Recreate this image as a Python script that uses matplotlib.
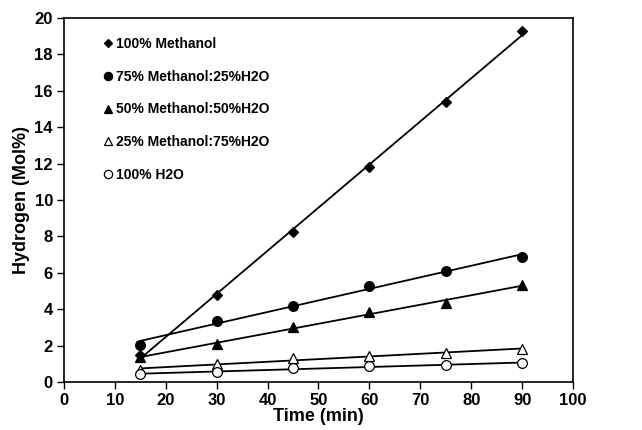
import numpy as np
import matplotlib.pyplot as plt

plt.rcParams['font.family'] = ['Liberation Sans', 'DejaVu Sans']
plt.rcParams['font.weight'] = 'bold'

# data
time_min = [15, 30, 45, 60, 75, 90]
meoh_100 = [1.5, 4.8, 8.25, 11.8, 15.4, 19.3]
meoh_75 = [2.05, 3.35, 4.2, 5.3, 6.1, 6.85]
meoh_50 = [1.35, 2.1, 3.05, 3.82, 4.32, 5.35]
meoh_25 = [0.65, 1.0, 1.3, 1.42, 1.6, 1.8]
h2o_100 = [0.42, 0.57, 0.75, 0.86, 0.95, 1.03]

labels = ["100% Methanol", "75% Methanol:25%H2O", "50% Methanol:50%H2O",
          "25% Methanol:75%H2O", "100% H2O"]

series = [meoh_100, meoh_75, meoh_50, meoh_25, h2o_100]
markers = ['D', 'o', '^', '^', 'o']
sizes = [5, 7, 7, 7, 7]
faces = ['black', 'black', 'black', 'white', 'white']

fig = plt.figure(figsize=(6.42, 4.30), dpi=100)
ax = fig.add_axes([0.0997, 0.1116, 0.7928, 0.8464])

x = np.array(time_min)
for y, m, s, fc, lab in zip(series, markers, sizes, faces, labels):
    # linear trend line
    k, b = np.polyfit(x, y, 1)
    ax.plot(x, k * x + b, color='black', lw=1.3, zorder=2)
    ax.plot(x, y, linestyle='none', marker=m, ms=s, mfc=fc, mec='black',
            mew=0.9, label=lab, zorder=3)

ax.set_xlim(0, 100)
ax.set_ylim(0, 20)
ax.set_xticks(range(0, 101, 10))
ax.set_yticks(range(0, 21, 2))
ax.tick_params(direction='out', length=5, width=1, labelsize=12, pad=3)
for sp in ax.spines.values():
    sp.set_linewidth(1.2)

ax.set_xlabel("Time (min)", fontsize=13, fontweight='bold', labelpad=0)
ax.set_ylabel("Hydrogen (Mol%)", fontsize=13, fontweight='bold', labelpad=3)

leg = ax.legend(loc='upper left', bbox_to_anchor=(0.06, 0.975), frameon=False,
                fontsize=10, handlelength=0.5, handletextpad=0.35,
                labelspacing=1.35, borderpad=0.2, markerscale=0.85)

fig.savefig("out.png", dpi=100)
